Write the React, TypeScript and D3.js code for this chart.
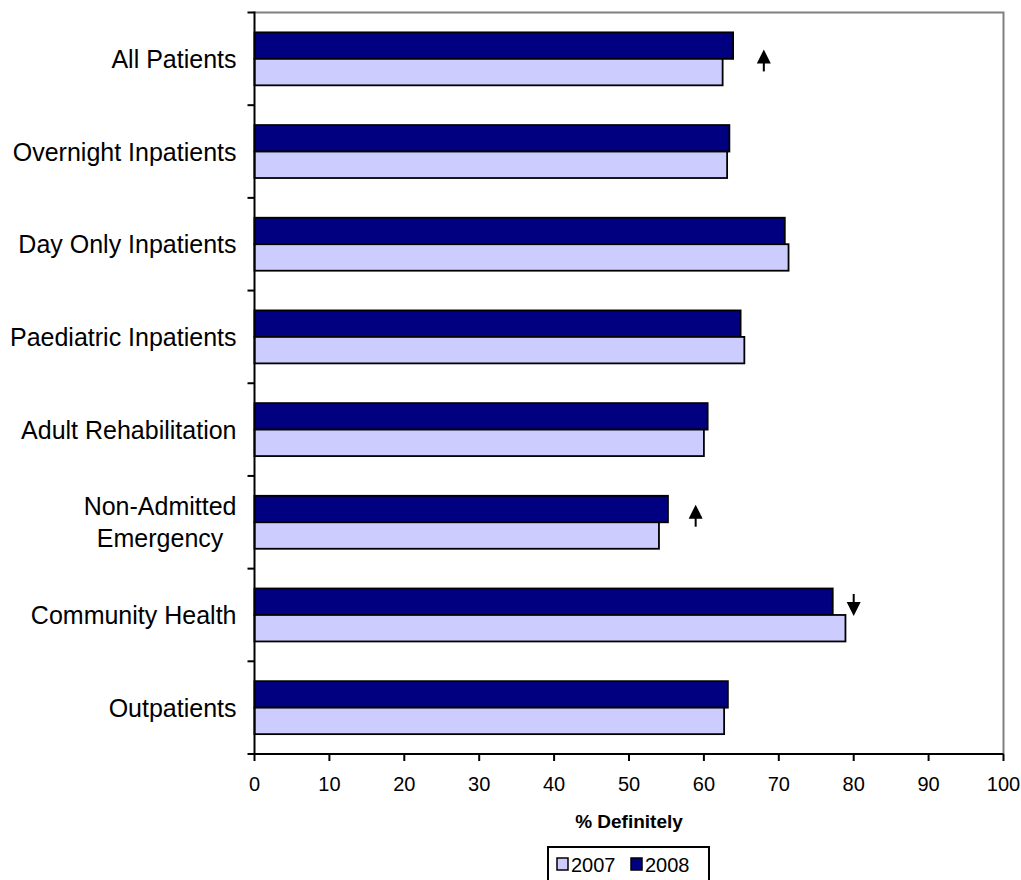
import React, { useEffect, useRef } from "react";
import * as d3 from "d3";

// Survey results: share of patients answering "Definitely", by patient group
const categories = [
  "All Patients",
  "Overnight Inpatients",
  "Day Only Inpatients",
  "Paediatric Inpatients",
  "Adult Rehabilitation",
  "Non-Admitted\nEmergency",
  "Community Health",
  "Outpatients",
];
const values2007 = [62.5, 63.1, 71.3, 65.4, 60.0, 54.0, 78.9, 62.7];
const values2008 = [63.9, 63.4, 70.8, 64.9, 60.5, 55.2, 77.2, 63.2];
const xTicks = [0, 10, 20, 30, 40, 50, 60, 70, 80, 90, 100];
const seriesNames = ["2007", "2008"];
const seriesColors: Record<string, string> = { "2007": "#CCCCFF", "2008": "#000080" };

// Significance markers: category, value where the arrow sits, direction, vertical nudge (fraction of band step)
const changeMarkers = [
  { category: "All Patients", value: 68.0, dir: "up", nudge: 0.017 },
  { category: "Non-Admitted\nEmergency", value: 58.9, dir: "up", nudge: -0.071 },
  { category: "Community Health", value: 80.0, dir: "down", nudge: -0.108 },
];

const W = 1021;
const H = 880;
const FONT = 'Arial, "Liberation Sans", sans-serif';

export default function App() {
  const ref = useRef<SVGSVGElement>(null);

  useEffect(() => {
    const svg = d3.select(ref.current);
    svg.selectAll("*").remove();

    const left = 254.5, right = 1003.5, top = 12.5, bottom = 754;
    const x = d3.scaleLinear().domain([0, 100]).range([left, right]);
    const y = d3
      .scaleBand<string>()
      .domain(categories)
      .range([top, bottom])
      .paddingInner(1.5 / 3.5)
      .paddingOuter(0.75 / 3.5);
    const sub = d3.scaleBand<string>().domain(["2008", "2007"]).range([0, y.bandwidth()]);
    const step = y.step();

    // plot frame: grey top/right edges
    svg.append("path")
      .attr("d", `M${left},${top}H${right}V${bottom}`)
      .attr("fill", "none")
      .attr("stroke", "#808080")
      .attr("stroke-width", 2);

    // bars
    const rows = categories.map((c, i) => ({ c, v2007: values2007[i], v2008: values2008[i] }));
    const g = svg.append("g");
    rows.forEach((r) => {
      (["2008", "2007"] as const).forEach((s) => {
        const v = s === "2007" ? r.v2007 : r.v2008;
        g.append("rect")
          .attr("x", x(0))
          .attr("y", (y(r.c) as number) + (sub(s) as number))
          .attr("width", x(v) - x(0))
          .attr("height", sub.bandwidth())
          .attr("fill", seriesColors[s])
          .attr("stroke", "#000")
          .attr("stroke-width", 1.8);
      });
    });

    // axes
    const axisG = svg.append("g").attr("stroke", "#000").attr("stroke-width", 2);
    axisG.append("line").attr("x1", left).attr("x2", left).attr("y1", top - 1).attr("y2", bottom);
    axisG.append("line").attr("x1", left).attr("x2", right).attr("y1", bottom).attr("y2", bottom);
    const bounds = categories.map((c) => (y(c) as number) - y.paddingOuter() * step);
    bounds.push(bottom);
    bounds.forEach((b) => {
      axisG.append("line").attr("x1", left - 7).attr("x2", left).attr("y1", b).attr("y2", b);
    });
    xTicks.forEach((t) => {
      axisG.append("line").attr("x1", x(t)).attr("x2", x(t)).attr("y1", bottom).attr("y2", bottom + 7);
    });

    // tick labels
    svg.append("g")
      .selectAll("text")
      .data(xTicks)
      .join("text")
      .attr("x", (d) => x(d))
      .attr("y", 791)
      .attr("text-anchor", "middle")
      .attr("font-family", FONT)
      .attr("font-size", 20)
      .text((d) => String(d));

    // category labels (multi-line labels are centred on their widest line)
    const catSize = 25;
    const ctx = document.createElement("canvas").getContext("2d")!;
    ctx.font = `${catSize}px Arial, "Liberation Sans"`;
    const labelRight = 236.5;
    const lineGap = 32;
    categories.forEach((c) => {
      const lines = c.split("\n");
      const cy = (y(c) as number) + y.bandwidth() / 2;
      const maxW = d3.max(lines, (l) => ctx.measureText(l).width) as number;
      const t = svg.append("text")
        .attr("font-family", FONT)
        .attr("font-size", catSize)
        .attr("text-anchor", lines.length > 1 ? "middle" : "end");
      lines.forEach((l, i) => {
        t.append("tspan")
          .attr("x", lines.length > 1 ? labelRight - maxW / 2 : labelRight)
          .attr("y", cy + (i - (lines.length - 1) / 2) * lineGap + catSize * 0.36)
          .text(l);
      });
    });

    // axis title
    svg.append("text")
      .attr("x", (left + right) / 2)
      .attr("y", 828)
      .attr("text-anchor", "middle")
      .attr("font-family", FONT)
      .attr("font-size", 19)
      .attr("font-weight", "bold")
      .text("% Definitely");

    // change arrows
    changeMarkers.forEach((m) => {
      const cx = x(m.value);
      const cy = (y(m.category) as number) + y.bandwidth() / 2 + m.nudge * step;
      const len = 22, head = 14, hw = 7;
      const y0 = cy - len / 2, y1 = cy + len / 2;
      const ag = svg.append("g").attr("fill", "#000");
      if (m.dir === "up") {
        ag.append("path").attr("d", `M${cx},${y0}L${cx - hw},${y0 + head}L${cx + hw},${y0 + head}Z`);
        ag.append("rect").attr("x", cx - 1).attr("y", y0 + head - 1).attr("width", 2).attr("height", len - head + 1);
      } else {
        ag.append("rect").attr("x", cx - 1).attr("y", y0).attr("width", 2).attr("height", len - head + 1);
        ag.append("path").attr("d", `M${cx},${y1}L${cx - hw},${y1 - head}L${cx + hw},${y1 - head}Z`);
      }
    });

    // legend
    const lg = svg.append("g");
    lg.append("rect")
      .attr("x", 548).attr("y", 847).attr("width", 161).attr("height", 40)
      .attr("fill", "#fff").attr("stroke", "#000").attr("stroke-width", 2);
    const itemX = [557, 631];
    seriesNames.forEach((s, i) => {
      lg.append("rect")
        .attr("x", itemX[i]).attr("y", 858).attr("width", 11).attr("height", 12)
        .attr("fill", seriesColors[s]).attr("stroke", "#000").attr("stroke-width", 1.5);
      lg.append("text")
        .attr("x", itemX[i] + 14).attr("y", 872)
        .attr("font-family", FONT).attr("font-size", 20)
        .text(s);
    });
  }, []);

  return (
    <svg
      ref={ref}
      width={W}
      height={H}
      style={{ position: "absolute", left: 0, top: 0, background: "#fff" }}
    />
  );
}
